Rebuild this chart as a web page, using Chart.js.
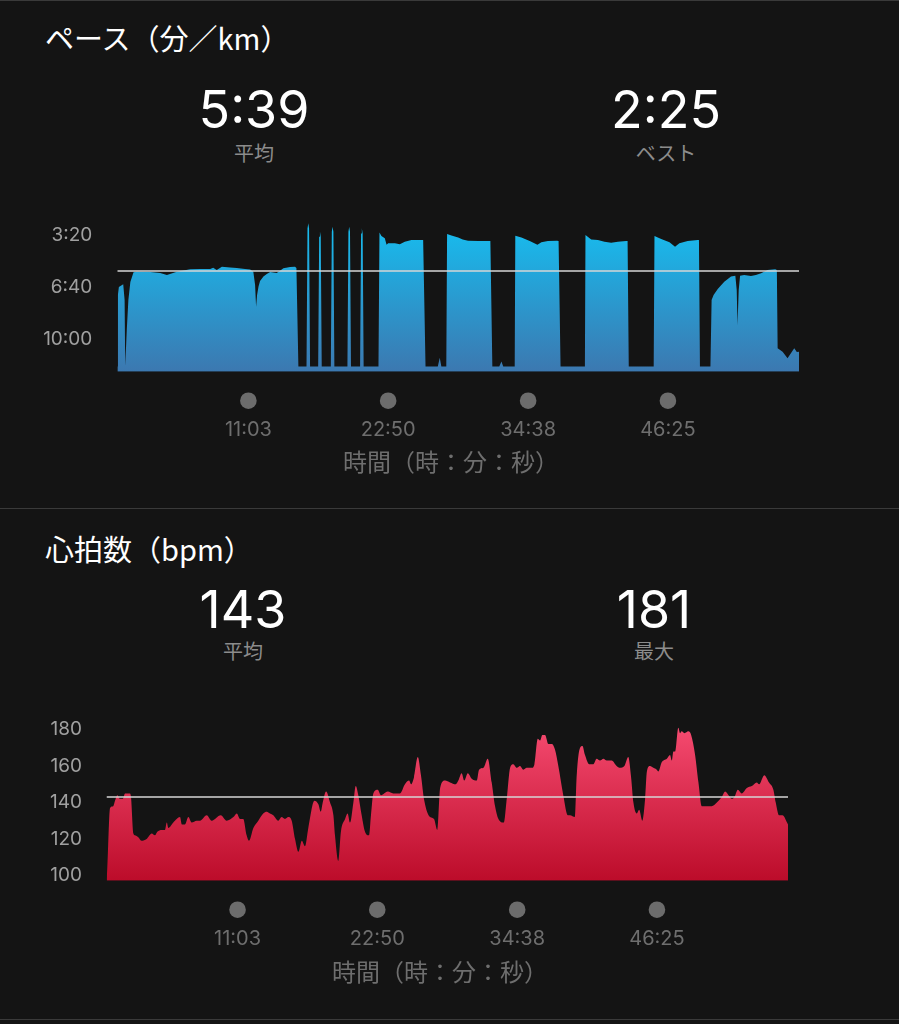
<!DOCTYPE html>
<html><head><meta charset="utf-8">
<script src="https://cdn.jsdelivr.net/npm/chart.js@4.4.0/dist/chart.umd.min.js"></script>
<style>
html,body{margin:0;padding:0;background:#141414;}
body{width:899px;height:1024px;position:relative;overflow:hidden;font-family:Inter,"Noto Sans CJK JP",sans-serif;}
.t{position:absolute;white-space:nowrap;line-height:1;transform:translate(-50%,-50%);}
.h{position:absolute;white-space:nowrap;line-height:1;transform:translateY(-50%);color:#fff;font-size:29px;left:45px;font-family:"Noto Sans CJK JP",sans-serif;}
.big{font-size:52px;color:#fff;font-family:Inter,sans-serif;}
.sub{font-size:20px;color:#8c8c8c;font-family:"Noto Sans CJK JP",sans-serif;}
.ax{font-size:24px;color:#6e6e6e;font-family:"Noto Sans CJK JP",sans-serif;}
.sep{position:absolute;left:0;width:899px;height:1px;background:#3a3a3a;}
canvas{position:absolute;left:0;}
</style></head>
<body>
<div class="sep" style="top:0"></div>
<div class="h" style="top:37px">ペース（分／km）</div>
<div class="t big" style="left:254px;top:110px">5:39</div>
<div class="t sub" style="left:254px;top:153px">平均</div>
<div class="t big" style="left:666px;top:110px">2:25</div>
<div class="t sub" style="left:666px;top:153px">ベスト</div>
<canvas id="pace" width="899" height="280" style="top:200px"></canvas>
<div class="t ax" style="left:451px;top:461px">時間（時：分：秒）</div>
<div class="sep" style="top:508px"></div>
<div class="h" style="top:548px">心拍数（bpm）</div>
<div class="t big" style="left:243px;top:610px">143</div>
<div class="t sub" style="left:243px;top:651px">平均</div>
<div class="t big" style="left:654px;top:610px">181</div>
<div class="t sub" style="left:654px;top:651px">最大</div>
<canvas id="hr" width="899" height="300" style="top:700px"></canvas>
<div class="t ax" style="left:440px;top:971px">時間（時：分：秒）</div>
<div class="sep" style="top:1019px"></div>
<script>
// ---- shared x axis (elapsed seconds) ----
const xMax = 3448;
const xTickValues = [663, 1370, 2078, 2785];
const xTickLabels = ['11:03', '22:50', '34:38', '46:25'];

// ---- pace (seconds per km) ----
const paceAvg = 339;   // 5:39
const paceTickValues = [200, 400, 600];
const paceTickLabels = ['3:20', '6:40', '10:00'];
const paceSeconds = [
  0,3,8,30,37,40,48,56,66,82,
  99,167,217,251,301,369,419,470,485,503,
  529,571,604,646,672,688,697,702,707,714,
  722,739,756,773,806,823,840,874,899,906,
  916,
  957,962,966,970,975,
  1016,1021,1025,1029,1034,
  1080,1085,1089,1093,1098,
  1164,1169,1173,1177,1182,
  1228,1233,1237,1241,1246,
  1321,1326,1336,1353,1362,1370,1404,1429,1454,1488,1542,1547,1559,
  1621,1631,1639,
  1664,1668,1690,1724,1747,1774,1825,1887,1897,
  1932,1943,1952,
  2010,2013,2044,2086,2125,2145,2178,2224,2232,2242,
  2365,2368,2397,2431,2464,2498,2532,2574,2581,2587,
  2713,2717,2751,2793,2821,2843,2885,2936,2942,2947,
  3000,3006,3016,3037,3070,3104,3126,3133,3137,3143,
  3150,3171,3205,3230,3256,3289,3328,3336,3340,3365,
  3390,3424,3437,3448
];
const paceValues = [
  706,431,400,390,450,704,565,450,381,343,
  341,342,346,354,341,332,331,331,326,335,
  322,325,327,331,333,341,392,476,431,399,
  377,360,350,342,346,338,328,323,322,327,
  706,
  706,175,155,175,706,
  706,207,187,207,706,
  706,188,168,188,706,
  706,188,168,188,706,
  706,194,174,194,706,
  706,190,204,213,238,232,232,236,226,219,219,219,706,
  706,672,706,
  706,196,202,210,217,222,223,223,706,
  706,687,706,
  706,203,210,223,238,228,223,222,223,706,
  706,200,217,219,226,230,226,223,223,706,
  706,204,215,228,245,232,223,219,219,706,
  706,450,431,408,380,360,357,412,546,412,
  357,354,358,354,347,335,332,335,636,649,
  674,636,650,649
];

// ---- heart rate (bpm) ----
const hrAvg = 143;
const hrTickValues = [100, 120, 140, 160, 180];
const hrTickLabels = ['100', '120', '140', '160', '180'];
const hrSeconds = [
  0,3,18,34,43,55,68,82,94,119,
  124,136,144,161,178,203,229,245,257,279,
  296,305,313,338,372,381,397,414,431,456,
  473,507,532,578,608,642,659,676,692,709,
  721,743,768,793,811,827,844,869,886,903,
  920,937,954,971,988,1004,1021,1052,1072,1084,
  1094,1111,1131,1148,1156,1173,1186,1207,1220,1232,
  1249,1261,1274,1291,1308,1328,1338,1350,1372,1389,
  1423,1451,1485,1510,1531,1541,1556,1575,1591,1608,
  1637,1657,1674,1688,1713,1738,1767,1780,1797,1810,
  1828,1848,1873,1885,1907,1929,1949,1966,1983,2011,
  2025,2042,2058,2076,2092,2109,2126,2152,2165,2182,
  2194,2205,2219,2236,2253,2269,2286,2311,2334,2345,
  2370,2379,2396,2408,2421,2442,2463,2480,2497,2514,
  2531,2556,2581,2598,2620,2640,2654,2666,2683,2695,
  2711,2725,2734,2750,2767,2784,2792,2809,2835,2851,
  2860,2868,2877,2893,2902,2910,2924,2944,2958,2978,
  2995,3012,3062,3088,3113,3130,3147,3164,3177,3194,
  3214,3240,3265,3290,3302,3328,3352,3374,3386,3403,
  3420,3448
];
const hrValues = [
  97,102,137,138,141,144,142,142,145,145,
  143,123,122,121,119,120,123,122,124,125,
  125,129,126,129,132,128,128,132,129,130,
  130,133,130,133,130,132,134,131,131,122,
  119,126,130,134,135,134,133,130,132,131,
  132,130,120,113,119,116,126,141,139,135,
  140,146,140,133,122,108,124,131,134,129,
  140,149,144,133,124,122,133,145,147,144,
  146,145,145,150,152,150,154,165,155,141,
  132,131,125,148,152,151,150,152,156,152,
  156,153,152,158,159,164,151,138,131,129,
  142,159,161,159,160,158,159,159,161,175,
  174,177,177,172,172,169,160,144,133,133,
  132,155,170,171,166,161,161,164,163,164,
  163,163,160,159,160,165,154,140,134,136,
  130,142,157,160,159,158,157,162,164,166,
  163,168,168,181,178,179,178,179,177,166,
  151,138,138,140,143,146,144,142,143,147,
  145,148,149,151,150,155,151,147,140,133,
  133,128
];

Chart.defaults.font.family = 'Inter, "Noto Sans CJK JP", sans-serif';

const dotPlugin = {
  id: 'tickDots',
  afterDraw(chart) {
    const c = chart.ctx, xs = chart.scales.x, b = chart.chartArea.bottom;
    c.save();
    c.fillStyle = '#6c6c6c';
    xs.ticks.forEach(t => {
      c.beginPath();
      c.arc(xs.getPixelForValue(t.value), b + 29, 8.3, 0, Math.PI * 2);
      c.fill();
    });
    c.restore();
  }
};

function gradient(top, bottom) {
  return (ctx) => {
    const ch = ctx.chart, a = ch.chartArea;
    if (!a) return bottom;
    const g = ch.ctx.createLinearGradient(0, a.top, 0, a.bottom);
    g.addColorStop(0, top);
    g.addColorStop(1, bottom);
    return g;
  };
}

function areaChart(id, o) {
  const pts = o.xs.map((x, i) => ({ x: x, y: o.ys[i] }));
  return new Chart(document.getElementById(id), {
    type: 'line',
    data: { datasets: [
      { data: [{ x: 0, y: o.avg }, { x: xMax, y: o.avg }], borderColor: '#d6d6d6', borderWidth: 1.5,
        pointRadius: 0, fill: false, order: 0 },
      { data: pts, borderColor: 'rgba(0,0,0,0)', borderWidth: 0, pointRadius: 0, fill: 'start',
        backgroundColor: gradient(o.top, o.bottom), tension: 0, cubicInterpolationMode: o.cubic, order: 1 }
    ]},
    options: {
      responsive: false, animation: false, events: [],
      layout: { padding: { left: 0, right: o.padRight, top: o.padTop, bottom: 0 } },
      plugins: { legend: { display: false }, tooltip: { enabled: false } },
      scales: {
        x: {
          type: 'linear', min: 0, max: xMax,
          grid: { display: false, drawTicks: false }, border: { display: false },
          afterBuildTicks: s => { s.ticks = xTickValues.map(v => ({ value: v })); },
          afterFit: s => { s.height = o.xHeight; s.paddingLeft = 0; s.paddingRight = 0; },
          ticks: { autoSkip: false, maxRotation: 0, padding: 46, color: '#6e6e6e', font: { size: 20 },
                   callback: (v, i) => xTickLabels[i] }
        },
        y: {
          type: 'linear', min: o.yMin, max: o.yMax, reverse: o.reverse,
          grid: { display: false, drawTicks: false }, border: { display: false },
          afterBuildTicks: s => { s.ticks = o.yTicks.map(v => ({ value: v })); },
          afterFit: s => { s.width = o.yWidth; s.paddingTop = 0; s.paddingBottom = 0; },
          ticks: { autoSkip: false, padding: o.yPad, color: '#a0a0a0', font: { size: 19 },
                   callback: (v, i) => o.yLabels[i] }
        }
      }
    },
    plugins: [dotPlugin]
  });
}

areaChart('pace', {
  xs: paceSeconds, ys: paceValues, avg: paceAvg,
  yMin: 120, yMax: 726, reverse: true, yTicks: paceTickValues, yLabels: paceTickLabels,
  top: '#14c2f4', bottom: '#3c78b0', cubic: 'default',
  padTop: 14.2, padRight: 100, xHeight: 108.3, yWidth: 117.3, yPad: 25
});
areaChart('hr', {
  xs: hrSeconds, ys: hrValues, avg: hrAvg,
  yMin: 97.15, yMax: 190.15, reverse: false, yTicks: hrTickValues, yLabels: hrTickLabels,
  top: '#fb5177', bottom: '#bc0c2a', cubic: 'monotone',
  padTop: 11, padRight: 111, xHeight: 119.3, yWidth: 106.5, yPad: 24.5
});
</script>
</body></html>
